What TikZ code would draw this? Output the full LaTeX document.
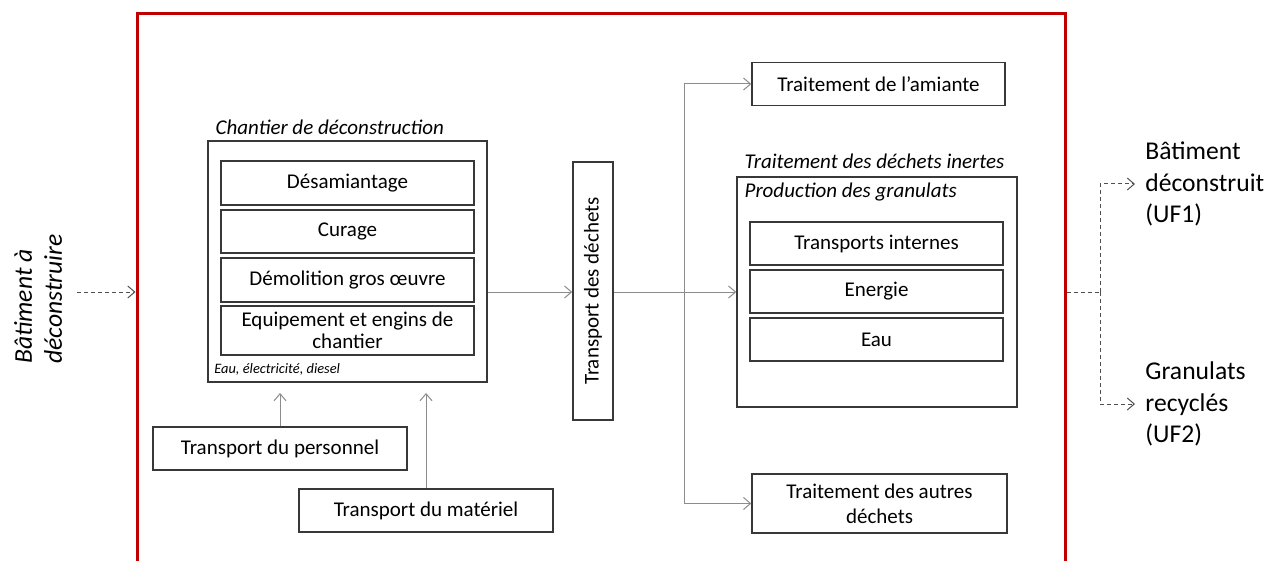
\documentclass[tikz,border=0pt]{standalone}
\usepackage{fontspec}
\setmainfont{Carlito}
\usetikzlibrary{arrows.meta}
\definecolor{frred}{HTML}{C00000}
\definecolor{boxline}{HTML}{383838}
\definecolor{conn}{HTML}{8C8C8C}
\definecolor{dconn}{HTML}{505050}
\tikzset{
  box/.style={draw=boxline, line width=0.75pt, inner sep=0pt, align=center,
    font=\fontsize{10.5}{11}\selectfont},
  frame/.style={draw=frred, line width=1.5pt, inner sep=0pt},
  arr/.style={draw=conn, line width=0.5pt, -{Straight Barb[length=3.5pt,width=6pt]}},
  darr/.style={draw=dconn, line width=0.5pt, dash pattern=on 2pt off 1.5pt,
    -{Straight Barb[length=3.5pt,width=6pt]}},
  dline/.style={draw=dconn, line width=0.5pt, dash pattern=on 2pt off 1.5pt},
  ititle/.style={font=\fontsize{10.5}{12}\itshape\selectfont, inner sep=1pt},
  outlabel/.style={font=\fontsize{12.8}{15.8}\selectfont, align=left, inner ysep=1pt, inner xsep=5pt}
}
\begin{document}
\begin{tikzpicture}[x=0.5pt,y=-0.5pt]
\useasboundingbox (0,0) rectangle (1283,561);
\clip (0,0) rectangle (1283,561);
% red frame
\node[frame, minimum width=464pt, minimum height=293pt] (frame) at (601,307) {};
% left label
\node[font=\fontsize{12.8}{15}\itshape\selectfont, align=left, rotate=90, inner sep=0pt] (inlabel) at (38,299) {Bâtiment à\\déconstruire};
\coordinate (inpt) at (77,292);
\draw[darr] (inpt) -- (inpt -| frame.west);
% chantier
\node[box, minimum width=139.5pt, minimum height=120.5pt] (ch) at (347.5,261.5) {};
\node[ititle, anchor=south west] (chtitle) at ([xshift=3pt,yshift=1.5pt]ch.north west) {Chantier de déconstruction};
\node[box, minimum width=126.5pt, minimum height=22pt] (des) at (347.5,183) {Désamiantage};
\node[box, minimum width=126.5pt, minimum height=21.5pt] (cur) at (347.5,231.5) {Curage};
\node[box, minimum width=126.5pt, minimum height=22pt] (dem) at (347.5,280) {Démolition gros œuvre};
\node[box, minimum width=126.5pt, minimum height=24.5pt] (equ) at (347.5,330.5) {Equipement et engins de\\chantier};
\node[font=\fontsize{7.2}{8}\itshape\selectfont, anchor=west, inner sep=0pt] (eau1) at (214,369) {Eau, électricité, diesel};
% transports
\node[box, minimum width=127pt, minimum height=21.5pt] (tperso) at (280,448.5) {Transport du personnel};
\node[box, minimum width=127pt, minimum height=21.5pt] (tmat) at (426,510.5) {Transport du matériel};
\coordinate (up) at (0,393);
\draw[arr] (tperso.north) -- (tperso.north |- up);
\draw[arr] (tmat.north) -- (tmat.north |- up);
% transport des dechets
\node[box, minimum width=20pt, minimum height=129pt] (tdech) at (593,291) {};
\node[rotate=90, font=\fontsize{10.5}{11}\selectfont, inner sep=0pt] (tdtext) at (tdech.center) {Transport des déchets};
\coordinate (m) at (0,292);
\draw[arr] (ch.east |- m) -- (tdech.west |- m);
% treatments
\node[box, minimum width=126.5pt, minimum height=21.5pt] (amiante) at (878.5,84) {Traitement de l’amiante};
\node[box, minimum width=140pt, minimum height=115pt] (inertes) at (877,292) {};
\node[ititle, anchor=south west] (intitle) at ([xshift=3pt,yshift=2.5pt]inertes.north west) {Traitement des déchets inertes};
\node[ititle, anchor=north west] (prod) at ([xshift=3pt,yshift=-2pt]inertes.north west) {Production des granulats};
\node[box, minimum width=126.5pt, minimum height=21.5pt] (tint) at (876.5,243.5) {Transports internes};
\node[box, minimum width=126.5pt, minimum height=21.5pt] (ener) at (876.5,291.5) {Energie};
\node[box, minimum width=126.5pt, minimum height=21.5pt] (eau) at (876.5,339.5) {Eau};
\node[box, minimum width=127.5pt, minimum height=29.5pt, font=\fontsize{10.5}{12.5}\selectfont] (autres) at (879.5,503.5) {Traitement des autres\\déchets};
\draw[arr] (tdech.east |- m) -- (inertes.west |- m);
\coordinate (j) at (684,292);
\draw[arr] (j) |- (amiante.west);
\draw[arr] (j) |- (autres.west);
% outputs
\node[outlabel, anchor=west] (uf1) at (1135,184) {Bâtiment\\déconstruit\\(UF1)};
\node[outlabel, anchor=west] (uf2) at (1135,404) {Granulats\\recyclés\\(UF2)};
\coordinate (r) at (1100,292);
\draw[dline] (frame.east |- r) -- (r);
\draw[darr] (r) |- (uf1.west);
\draw[darr] (r) |- (uf2.west);
\end{tikzpicture}
\end{document}
